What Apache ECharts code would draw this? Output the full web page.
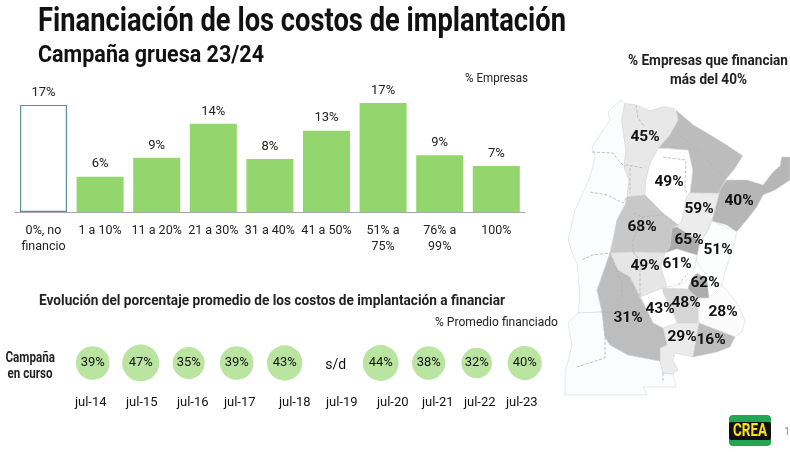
<!DOCTYPE html>
<html><head><meta charset="utf-8">
<style>html,body{margin:0;padding:0;background:#fff}#c{width:790px;height:452px}</style>
<script src="https://cdn.jsdelivr.net/npm/echarts@6/dist/echarts.min.js"></script>
</head><body><div id="c"></div>
<script>
const FONT='Roboto,sans-serif';
// --- data ---
const barCategories=['0%, no\nfinancio','1 a 10%','11 a 20%','21 a 30%','31 a 40%','41 a 50%','51% a\n75%','76% a\n99%','100%'];
const barValues=[17,5.6,8.6,14,8.4,12.9,17.3,9,7.3];
const campaigns=['jul-14','jul-15','jul-16','jul-17','jul-18','jul-19','jul-20','jul-21','jul-22','jul-23'];
const campaignValues=[39,47,35,39,43,null,44,38,32,40];
const campaignLabelNudge=[-2,1,4,3,10,9,12,9,3,-3];
const regionNames=['oeste','patagonia','noa','nea','santiago','santafe','mesopotamia','entrerios','cordobaOeste','cordobaEste','sanluis','centro','norteBsAs','oesteBsAs','sudesteBsAs','surBsAs','pampa','sudoeste','costa'];
const regionLabels=[null,null,45,null,49,59,40,51,68,65,49,61,62,48,28,29,43,31,16];
const regionShades=['#fbfcfd','#fbfcfd','#e8e8e8','#bcbcbc','#ffffff','#ececec','#b6b6b6','#fcfdfd','#c8c8c8','#ababab','#e6e6e6','#ffffff','#adadad','#d6d6d6','#fbfbfb','#ebebeb','#ffffff','#bdbdbd','#bdbdbd'];
// region outlines
const outlines={
oeste:[[621,100],[625,103],[621.7,120],[626,150],[624,167],[629,180],[627,197],[625,205],[617,220],[613,240],[610,253],[603,273],[597,290],[602,312],[578,313],[580,297],[577,263],[573,255],[568,240],[575,210],[590,177],[595,157],[592,147],[610,120],[608,112]],
patagonia:[[578,313],[602,312],[605,337],[610,345],[628,355],[660,361],[663,373],[673,374],[676,387],[663,387],[643,387],[647,395],[565,395],[565,373],[572,345],[568,323]],
noa:[[625,103.3],[636.7,105],[650,110.7],[663.3,106.7],[674,108.3],[678.3,120],[670,135],[658.3,148.3],[650,163.3],[646,180],[645,195],[627.3,196.7],[629,180],[624,166.7],[626,150],[621.7,120]],
nea:[[676,110],[693.3,125],[706.7,132.7],[726.7,145],[742.7,155.7],[735,168.3],[726.7,178.3],[720.7,188.3],[720,193.3],[690,192.7],[692.7,171.7],[688.3,151.7],[670,148.3],[658.3,148.3],[670,135],[678.3,120]],
santiago:[[658.3,148.3],[688.3,150],[692.7,170],[690,192.7],[686.7,196.7],[681.7,221.7],[678.3,225],[663.3,213.3],[650,200],[645,195],[646,180],[650,163.3]],
santafe:[[690,193.3],[720,194],[711.7,220],[706.7,233.3],[700,241.7],[676.7,226.7],[681.7,221.7],[686.7,196.7]],
mesopotamia:[[720.7,188.3],[726.7,180],[747,180],[763,185],[773,172],[780,166],[781.7,157],[790,157],[790,180],[775,190],[763,195],[756.7,207],[745,222],[736.7,231.7],[726.7,225],[712,221]],
entrerios:[[712,221],[736.7,231.7],[735,240],[730,257],[725,272],[722,285],[718,284],[705,273],[697,263],[695,252],[700,241.7],[706.7,233.3]],
cordobaOeste:[[627,197],[645,195],[663,213],[678,225],[672,228],[670,247],[665,253],[634,252],[610,253],[613,240],[617,220],[625,205]],
cordobaEste:[[672,228],[676.7,226.7],[700,241.7],[697,256],[677,249],[665,253],[670,247]],
sanluis:[[610,253],[634,252],[665,253],[661,267],[667,287],[663,288],[640,297],[630,277],[618,270]],
centro:[[665,253],[677,249],[697,255],[695,265],[692,277],[678,285],[667,287],[661,267]],
norteBsAs:[[697,273],[707,280],[709,298],[690,298],[688,288],[692,278]],
oesteBsAs:[[663,288],[688,289],[698,298],[698,323],[677,323],[672,310],[663,293]],
sudesteBsAs:[[709,298],[722,285],[737,303],[745,320],[742,332],[735,337],[699,323],[698,298]],
surBsAs:[[663,328],[677,323],[699,323],[693,357],[675,353],[673,360],[678,370],[673,374],[663,373],[660,361],[660,348],[667,345]],
pampa:[[640,297],[663,288],[663,293],[672,310],[677,323],[663,328],[653,323],[647,310]],
sudoeste:[[610,253],[618,270],[630,277],[640,297],[647,310],[653,323],[663,328],[667,345],[660,348],[660,361],[628,355],[610,345],[605,337],[602,312],[597,290],[603,273]],
costa:[[699,323],[735,337],[730,347],[717,352],[693,357]]
};
const labelAnchors={noa:[645,137],santiago:[669,182],santafe:[699,209],mesopotamia:[739,201],cordobaOeste:[642,227],cordobaEste:[689,240],entrerios:[718,250],sanluis:[645,266],centro:[677,264],norteBsAs:[705,283],pampa:[660,309],oesteBsAs:[686,303],sudesteBsAs:[723,312],sudoeste:[628,318],surBsAs:[682,337],costa:[711,340]};
const provinceLines=[
[[636,105],[638,118],[645,127]],
[[625,165],[633,166],[643,168]],
[[630,168],[630,193]],
[[592,152],[613,153],[618,160],[625,167]],
[[590,192],[607,195],[623,203],[627,197]],
[[678,135],[693,145],[707,160],[725,178]],
[[663,157],[686,160],[685,188],[687,193]],
[[633,213],[643,217],[663,215],[678,225]],
[[643,217],[633,240],[633,252]],
[[633,252],[640,260],[640,297]],
[[582,260],[592,255],[610,253]],
[[610,253],[622,283],[622,297],[603,313],[605,337]],
[[605,337],[605,358],[577,367]],
[[663,373],[663,383]],
[[678,285],[688,273]],
[[602,312],[622,313]]
];
// --- text fitted to a target width (no condensed face is installed) ---
const mctx=document.createElement('canvas').getContext('2d');
function fit(text,x0,x1,cy,size,weight,color){
  const font=weight+' '+size+'px '+FONT;
  mctx.font=font;
  return {type:'text',x:x0,y:cy,scaleX:(x1-x0)/mctx.measureText(text).width,silent:true,
    style:{text,font,fill:color,align:'left',verticalAlign:'middle'}};
}
// --- geo ---
const flip=p=>[p[0],-p[1]];
echarts.registerMap('crea',{type:'FeatureCollection',features:regionNames.map(n=>({
  type:'Feature',
  properties:{name:n,cp:labelAnchors[n]?flip(labelAnchors[n]):undefined},
  geometry:{type:'Polygon',coordinates:[[...outlines[n],outlines[n][0]].map(flip)]}
}))});
const chart=echarts.init(document.getElementById('c'),null,{renderer:'canvas'});
chart.setOption({
  animation:false,
  backgroundColor:'#ffffff',
  grid:[
    {left:15.2,top:86,width:509.4,height:126},
    {left:68.7,top:343,width:480,height:40}
  ],
  xAxis:[
    {type:'category',gridIndex:0,data:barCategories,
     axisTick:{show:false},axisLine:{lineStyle:{color:'#a6a6a6',width:1}},
     axisLabel:{interval:0,margin:11,fontFamily:FONT,fontSize:12.5,color:'#222',lineHeight:16}},
    {type:'category',gridIndex:1,
     data:campaigns.map((c,i)=>{const d=campaignLabelNudge[i]*2;return {value:c,textStyle:{padding:d>=0?[0,0,0,d]:[0,-d,0,0]}};}),
     axisTick:{show:false},axisLine:{show:false},
     axisLabel:{interval:0,margin:13,fontFamily:FONT,fontSize:13,color:'#111'}}
  ],
  yAxis:[
    {type:'value',gridIndex:0,min:0,max:20,show:false},
    {type:'value',gridIndex:1,min:0,max:2,show:false}
  ],
  geo:{map:'crea',roam:false,left:565,top:100,width:225,height:295,aspectScale:1,silent:true,
    itemStyle:{areaColor:'#fff',borderColor:'#d2d2d2',borderWidth:0.5},
    label:{show:true,fontFamily:FONT,fontSize:15.5,fontWeight:'bold',color:'#111',
      formatter:p=>{const v=regionLabels[regionNames.indexOf(p.name)];return v==null?'':v+'%';}},
    emphasis:{disabled:true},
    regions:regionNames.map((n,i)=>({name:n,itemStyle:{areaColor:regionShades[i]}}))
  },
  graphic:[
    fit('Financiación de los costos de implantación',38,566,23,33,'bold','#111'),
    fit('Campaña gruesa 23/24',38,264,56,23,'bold','#111'),
    fit('% Empresas',465,528,79,13.5,'normal','#222'),
    fit('Evolución del porcentaje promedio de los costos de implantación a financiar',39,505,301,15.5,'bold','#222'),
    fit('% Promedio financiado',435,558,323,13.5,'normal','#222'),
    fit('% Empresas que financian',628,788,61,15.5,'bold','#222'),
    fit('más del 40%',670,747,80,15.5,'bold','#222'),
    fit('Campaña',5.5,55,358,14,'bold','#222'),
    fit('en curso',7.5,52.5,374,14,'bold','#222'),
    {type:'rect',silent:true,shape:{x:729,y:415,width:42,height:31,r:4},style:{fill:'#1fa84f'}},
    {type:'rect',silent:true,shape:{x:729,y:422,width:42,height:18,r:2},style:{fill:'#111'}},
    fit('CREA',733,767,431,19,'bold','#f7e11a'),
    {type:'text',silent:true,x:787,y:432,style:{text:'1',fill:'#888',font:'10px '+FONT,align:'center',verticalAlign:'middle'}}
  ],
  series:[
    {type:'bar',xAxisIndex:0,yAxisIndex:0,barWidth:47,silent:true,
     data:barValues.map((v,i)=>i===0?{value:v,itemStyle:{color:'#ffffff',borderColor:'#5f8f99',borderWidth:1.2}}:v),
     itemStyle:{color:'#93d66d'},
     label:{show:true,position:'top',distance:6,fontFamily:FONT,fontSize:13,color:'#222',formatter:p=>Math.round(p.value)+'%'}},
    {type:'scatter',xAxisIndex:1,yAxisIndex:1,silent:true,
     data:campaignValues.map((v,i)=>v==null?{value:[campaigns[i],1,v],label:{offset:[3,2],fontSize:14}}:[campaigns[i],1,v]),
     symbolSize:d=>d[2]==null?0:5.4*Math.sqrt(d[2]),
     itemStyle:{color:'#b9e5a1',opacity:1},
     label:{show:true,position:'inside',fontFamily:FONT,fontSize:13,color:'#111',
       formatter:p=>p.value[2]==null?'s/d':p.value[2]+'%'}},
    {type:'lines',coordinateSystem:'geo',polyline:true,silent:true,
     data:provinceLines.map(l=>({coords:l.map(flip)})),
     lineStyle:{color:'#b4b4b4',width:0.8,type:'dashed',opacity:1}}
  ]
});
</script></body></html>
